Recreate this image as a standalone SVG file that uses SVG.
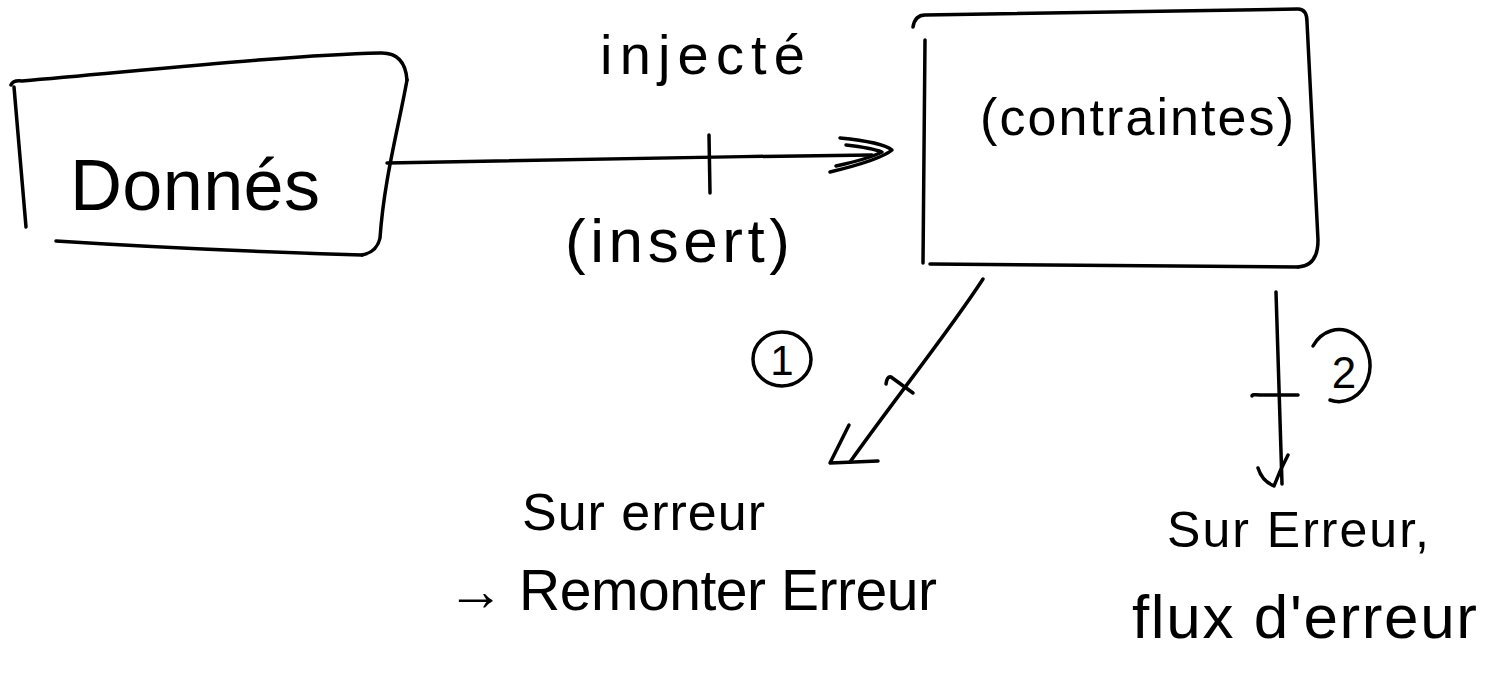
<svg xmlns="http://www.w3.org/2000/svg" width="1488" height="679" viewBox="0 0 1488 679">
  <style>
    .ink { fill: none; stroke: #000; stroke-width: 3.5; stroke-linecap: round; stroke-linejoin: round; }
    .txt { font-family: "Liberation Sans", "DejaVu Sans", sans-serif; fill: #000; }
  </style>
  <rect width="1488" height="679" fill="#fff"/>

  <!-- Données box -->
  <g id="node-donnees">
    <path class="ink" d="M11,85 Q13,80 22,81 C150,70 290,55 380,53 Q405,52 407,80"/>
    <path class="ink" d="M407,80 C398,130 384,180 380,238 Q377,252 362,255"/>
    <path class="ink" d="M56,241 C150,247 260,252 362,255"/>
    <path class="ink" d="M14,87 L26,227"/>
    <text class="txt" x="70" y="210" font-size="72" textLength="250" lengthAdjust="spacing">Donnés</text>
  </g>

  <!-- contraintes box -->
  <g id="node-contraintes">
    <path class="ink" d="M913,27 Q915,15 925,15 L1298,9 Q1307,9 1307,22 L1318,240 Q1318,266 1298,267"/>
    <path class="ink" d="M930,264 L1298,267"/>
    <path class="ink" d="M925,40 L923,263"/>
    <text class="txt" x="980" y="135" font-size="52" textLength="314" lengthAdjust="spacing">(contraintes)</text>
  </g>

  <!-- connectors -->
  <g id="connectors">
    <!-- Données -> contraintes -->
    <path class="ink" d="M387,163 C500,160 700,157 872,155"/>
    <path class="ink" d="M709,135 L710,193"/>
    <path class="ink" d="M840,138 Q882,142 892,150 Q880,160 830,172"/>
    <path class="ink" d="M846,145 Q872,148 882,152 Q868,159 836,166"/>

    <!-- path 1: contraintes -> raise error -->
    <path class="ink" d="M983,279 C950,330 900,392 850,462"/>
    <path class="ink" d="M886,384 Q887,376 891,377 L913,393"/>
    <path class="ink" d="M849,425 L830,463 L878,461"/>

    <!-- path 2: contraintes -> error flow -->
    <path class="ink" d="M1276,292 L1282,484"/>
    <path class="ink" d="M1252,396 Q1252,394 1260,395 L1298,395"/>
    <path class="ink" d="M1258,468 Q1262,481 1274,486 Q1280,470 1288,455"/>
  </g>

  <!-- edge labels -->
  <g id="label-injecte">
    <text class="txt" x="600" y="74" font-size="56" textLength="205" lengthAdjust="spacing">injecté</text>
  </g>
  <g id="label-insert">
    <text class="txt" x="565" y="262" font-size="62" textLength="225" lengthAdjust="spacing">(insert)</text>
  </g>

  <!-- step markers -->
  <g id="marker-1">
    <ellipse class="ink" cx="782" cy="359" rx="29" ry="27"/>
    <text class="txt" x="782" y="375" font-size="42" text-anchor="middle">1</text>
  </g>
  <g id="marker-2">
    <path class="ink" d="M1313,346 A31,36 0 1,1 1330,400"/>
    <text class="txt" x="1344" y="388" font-size="44" text-anchor="middle">2</text>
  </g>

  <!-- outcome notes -->
  <g id="note-remonter">
    <text class="txt" x="522" y="530" font-size="52" textLength="243" lengthAdjust="spacing">Sur erreur</text>
    <text class="txt" x="447" y="610" font-size="57" textLength="490" lengthAdjust="spacing">→ Remonter Erreur</text>
  </g>
  <g id="note-flux">
    <text class="txt" x="1167" y="547" font-size="50" textLength="262" lengthAdjust="spacing">Sur Erreur,</text>
    <text class="txt" x="1132" y="638" font-size="62" textLength="345" lengthAdjust="spacing">flux d'erreur</text>
  </g>
</svg>
